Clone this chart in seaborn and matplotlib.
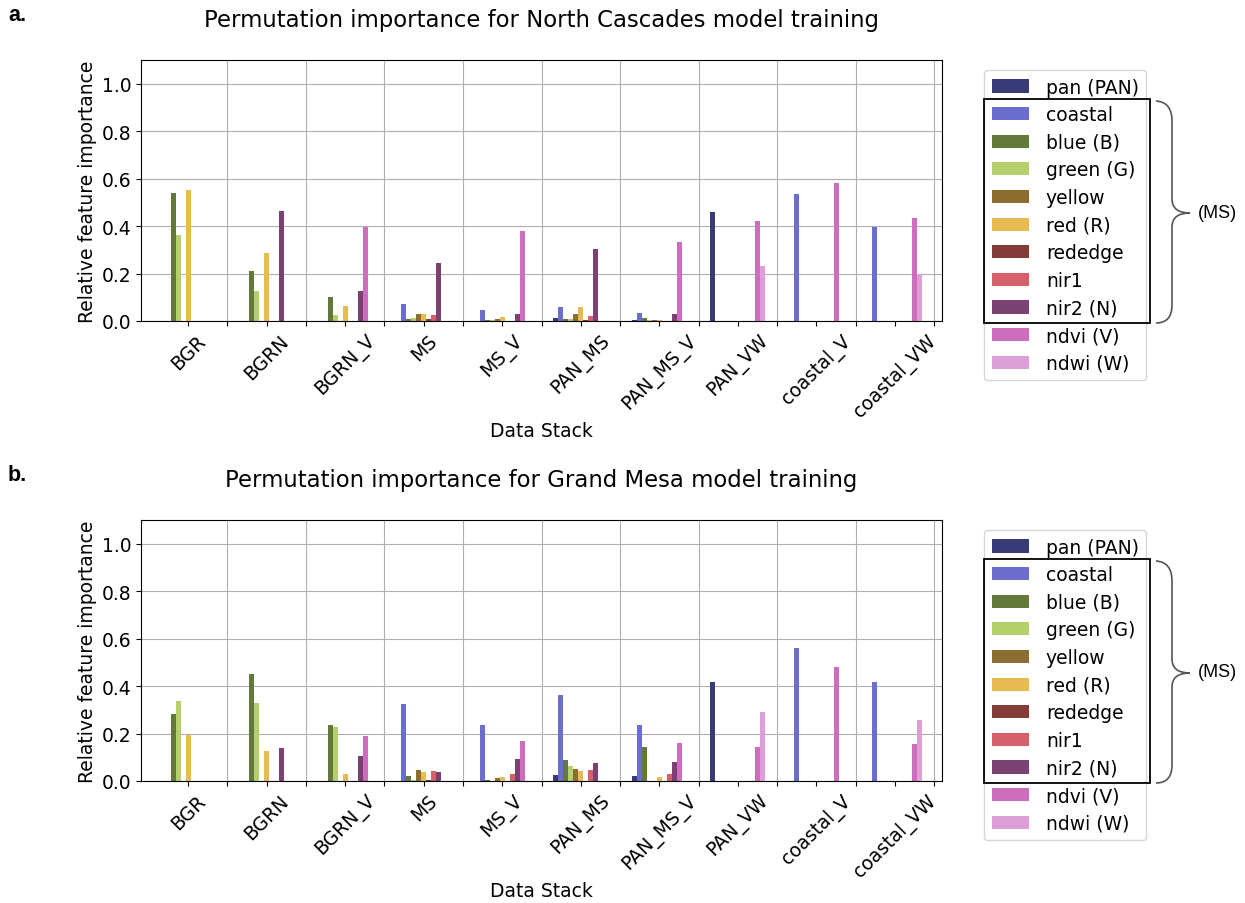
import numpy as np
import pandas as pd
import matplotlib
matplotlib.use("Agg")
import matplotlib.pyplot as plt
import seaborn as sns
from matplotlib.path import Path
from matplotlib.patches import PathPatch, Rectangle, Patch

# ---------------- data ----------------
stacks = ["BGR", "BGRN", "BGRN_V", "MS", "MS_V", "PAN_MS", "PAN_MS_V",
          "PAN_VW", "coastal_V", "coastal_VW"]
features = ["pan (PAN)", "coastal", "blue (B)", "green (G)", "yellow",
            "red (R)", "rededge", "nir1", "nir2 (N)", "ndvi (V)", "ndwi (W)"]

# North Cascades (panel a)
nc_pan     = [0, 0, 0, 0, 0, 0.014, 0.003, 0.461, 0, 0]
nc_coastal = [0, 0, 0, 0.072, 0.046, 0.060, 0.035, 0, 0.537, 0.397]
nc_blue    = [0.541, 0.209, 0.103, 0.007, 0.003, 0.010, 0.011, 0, 0, 0]
nc_green   = [0.364, 0.128, 0.025, 0.011, 0.005, 0.010, 0.006, 0, 0, 0]
nc_yellow  = [0, 0, 0, 0.031, 0.007, 0.031, 0.006, 0, 0, 0]
nc_red     = [0.551, 0.288, 0.062, 0.031, 0.017, 0.060, 0.006, 0, 0, 0]
nc_rededge = [0, 0, 0, 0.007, 0, 0.003, 0, 0, 0, 0]
nc_nir1    = [0, 0, 0, 0.025, 0, 0.021, 0, 0, 0, 0]
nc_nir2    = [0, 0.465, 0.128, 0.243, 0.031, 0.305, 0.031, 0, 0, 0]
nc_ndvi    = [0, 0, 0.396, 0, 0.379, 0, 0.333, 0.420, 0.581, 0.435]
nc_ndwi    = [0, 0, 0, 0, 0, 0, 0, 0.233, 0, 0.199]

# Grand Mesa (panel b)
gm_pan     = [0, 0, 0, 0, 0, 0.027, 0.021, 0.419, 0, 0]
gm_coastal = [0, 0, 0, 0.324, 0.238, 0.364, 0.238, 0, 0.560, 0.419]
gm_blue    = [0.283, 0.450, 0.234, 0.021, 0.006, 0.087, 0.143, 0, 0, 0]
gm_green   = [0.339, 0.329, 0.228, 0.006, 0.002, 0.062, 0, 0, 0, 0]
gm_yellow  = [0, 0, 0, 0.046, 0.011, 0.052, 0, 0, 0, 0]
gm_red     = [0.192, 0.127, 0.031, 0.036, 0.017, 0.041, 0.017, 0, 0, 0]
gm_rededge = [0, 0, 0, 0.006, 0, 0, 0, 0, 0, 0]
gm_nir1    = [0, 0, 0, 0.042, 0.031, 0.046, 0.031, 0, 0, 0]
gm_nir2    = [0, 0.139, 0.106, 0.036, 0.094, 0.076, 0.081, 0, 0, 0]
gm_ndvi    = [0, 0, 0.188, 0, 0.168, 0, 0.162, 0.143, 0.480, 0.157]
gm_ndwi    = [0, 0, 0, 0, 0, 0, 0, 0.289, 0, 0.258]

yticks = [0.0, 0.2, 0.4, 0.6, 0.8, 1.0]

# ---------------- style ----------------
colors = ["#393b79", "#6b6ecf", "#637939", "#b5cf6b", "#8c6d31", "#e7ba52",
          "#843c39", "#d6616b", "#7b4173", "#ce6dbd", "#de9ed6"]

W, H = 1245, 904
FS = 13.5


def fx(px):
    return px / W


def fy(py):
    return 1 - py / H


fig = plt.figure(figsize=(W / 100, H / 100), dpi=100)


def panel(letter, title, series, dy):
    rows = []
    for f, vals in zip(features, series):
        for s, v in zip(stacks, vals):
            rows.append({"stack": s, "feature": f, "value": v})
    df = pd.DataFrame(rows)

    ax = fig.add_axes([fx(141), fy(322 + dy), fx(942) - fx(141), 261 / H])
    sns.barplot(data=df, x="stack", y="value", hue="feature", order=stacks,
                hue_order=features, palette=colors, width=0.7, saturation=1,
                errorbar=None, linewidth=0, legend=False, ax=ax)
    ax.set_xlim(-0.6, 9.6)
    ax.set_ylim(0, 1.1)
    ax.set_yticks(yticks)
    ax.set_yticklabels([f"{v:.1f}" for v in yticks])
    ax.set_xticks(np.arange(len(stacks)))
    ax.set_xticklabels(stacks, rotation=45, ha="center")
    ax.set_xticks(np.arange(len(stacks)) + 0.5, minor=True)
    ax.tick_params(axis="both", which="major", labelsize=FS, length=3.5, width=0.8)
    ax.tick_params(axis="x", which="minor", length=3.5, width=0.8)
    ax.grid(axis="y", which="major", color="#b0b0b0", lw=0.8)
    ax.grid(axis="x", which="minor", color="#b0b0b0", lw=0.8)
    ax.grid(axis="x", which="major", visible=False)
    ax.set_axisbelow(True)
    ax.set_xlabel("Data Stack", fontsize=FS)
    ax.xaxis.set_label_coords(0.5, -0.385)
    ax.set_ylabel("Relative feature importance", fontsize=FS)
    ax.yaxis.set_label_coords(-0.055, 0.5)

    fig.text(fx(541.5), fy(20 + dy), title, ha="center", va="center", fontsize=16.4)
    fig.text(fx(8), fy(5 + dy), letter, ha="left", va="top", fontsize=15.5,
             fontweight="bold", family="Liberation Sans")

    handles = [Patch(facecolor=c, label=f) for c, f in zip(colors, features)]
    ax.legend(handles=handles, loc="upper left",
              bbox_to_anchor=(fx(984), fy(71 + dy)),
              bbox_transform=fig.transFigure, borderaxespad=0, fontsize=FS,
              labelspacing=0.46, handletextpad=0.9)

    # box around multispectral bands
    fig.add_artist(Rectangle((fx(984), fy(324 + dy)), fx(1150) - fx(984),
                             (324 - 100) / H, transform=fig.transFigure,
                             fill=False, ec="black", lw=1.3, zorder=5))
    # curly brace
    pts = [(1156, 102), (1172, 103), (1172, 122),
           (1172, 200),
           (1172, 214), (1190, 214),
           (1172, 214), (1172, 228),
           (1172, 306),
           (1172, 324), (1156, 324)]
    codes = [Path.MOVETO, Path.CURVE3, Path.CURVE3,
             Path.LINETO,
             Path.CURVE3, Path.CURVE3,
             Path.CURVE3, Path.CURVE3,
             Path.LINETO,
             Path.CURVE3, Path.CURVE3]
    verts = [(fx(x), fy(y + dy)) for x, y in pts]
    fig.add_artist(PathPatch(Path(verts, codes), transform=fig.transFigure,
                             fill=False, ec="#555555", lw=1.2, zorder=5))
    fig.text(fx(1198), fy(213 + dy), "(MS)", ha="left", va="center",
             fontsize=13, family="Liberation Sans")


panel("a.", "Permutation importance for North Cascades model training",
      [nc_pan, nc_coastal, nc_blue, nc_green, nc_yellow, nc_red, nc_rededge,
       nc_nir1, nc_nir2, nc_ndvi, nc_ndwi], 0)
panel("b.", "Permutation importance for Grand Mesa model training",
      [gm_pan, gm_coastal, gm_blue, gm_green, gm_yellow, gm_red, gm_rededge,
       gm_nir1, gm_nir2, gm_ndvi, gm_ndwi], 460)

fig.savefig("out.png", dpi=100)
